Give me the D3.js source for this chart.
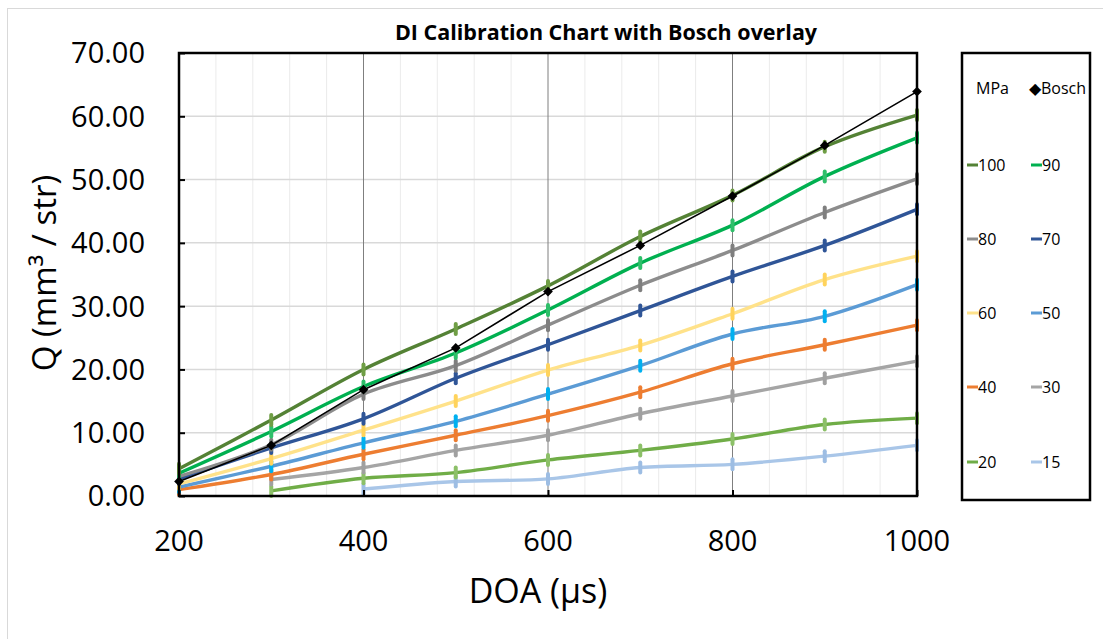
<!DOCTYPE html>
<html>
<head>
<meta charset="utf-8">
<script src="https://cdn.jsdelivr.net/npm/d3@7"></script>
<style>
  body { margin: 0; background: #fff; }
  svg { display: block; font-family: "Open Sans", sans-serif; }
</style>
</head>
<body>
<svg id="chart" width="1103" height="639"></svg>
<script>
// DOA (µs) on x, Q (mm³/str) on y
const doa = [200, 300, 400, 500, 600, 700, 800, 900, 1000];

const q100 = [4.3, 12.0, 20.0, 26.4, 33.2, 41.0, 47.5, 55.2, 60.2];
const q90 = [3.6, 10.2, 17.3, 22.6, 29.4, 36.8, 42.8, 50.5, 56.6];
const q80 = [3.1, 8.1, 16.1, 20.6, 27.0, 33.3, 38.8, 44.8, 50.1];
const q70 = [2.7, 7.6, 12.2, 18.6, 23.9, 29.3, 34.7, 39.6, 45.3];
const q60 = [1.9, 5.9, 10.4, 15.0, 19.9, 23.8, 28.8, 34.2, 37.9];
const q50 = [1.4, 4.7, 8.4, 11.8, 16.1, 20.6, 25.6, 28.4, 33.4];
const q40 = [1.0, 3.4, 6.6, 9.6, 12.7, 16.4, 20.9, 23.9, 27.0];
const q30 = [null, 2.6, 4.5, 7.2, 9.6, 13.0, 15.8, 18.6, 21.3];
const q20 = [null, 0.8, 2.8, 3.7, 5.7, 7.2, 9.0, 11.3, 12.3];
const q15 = [null, null, 1.1, 2.3, 2.7, 4.5, 5.0, 6.3, 8.0];
const bosch = [2.3, 8.0, 16.8, 23.4, 32.3, 39.6, 47.4, 55.4, 63.9];

const yTicks = [0, 10, 20, 30, 40, 50, 60, 70];
const xTicks = [200, 400, 600, 800, 1000];

const series = [
  { name: "100", values: q100, color: "#548235", mark: "#6f9e45" },
  { name: "90", values: q90, color: "#00b050", mark: "#2fbf6a" },
  { name: "80", values: q80, color: "#8c8c8c", mark: "#7f7f7f" },
  { name: "70", values: q70, color: "#2f5597", mark: "#2f5597" },
  { name: "60", values: q60, color: "#ffe28a", mark: "#ffd35c" },
  { name: "50", values: q50, color: "#5b9bd5", mark: "#00b0f0" },
  { name: "40", values: q40, color: "#ed7d31", mark: "#ed7d31" },
  { name: "30", values: q30, color: "#a5a5a5", mark: "#a0a0a0" },
  { name: "20", values: q20, color: "#70ad47", mark: "#8cc068" },
  { name: "15", values: q15, color: "#a9c6e8", mark: "#9dbde3" }
];

const svg = d3.select("#chart");
const margin = { top: 53, right: 186, bottom: 143, left: 179 };
const width = +svg.attr("width");
const height = +svg.attr("height");

// outer frame
svg.append("rect")
  .attr("x", 7.5).attr("y", 8.5)
  .attr("width", 1120).attr("height", 660)
  .attr("fill", "none").attr("stroke", "#d9d9d9");

const x = d3.scaleLinear()
  .domain([200, 1000])
  .range([margin.left, width - margin.right]);

const y = d3.scaleLinear()
  .domain([0, 70])
  .range([height - margin.bottom, margin.top]);

// minor vertical grid every 40
const minor = d3.range(240, 1000, 40).filter((d) => d % 200 !== 0);
svg.append("g")
  .selectAll("line")
  .data(minor)
  .join("line")
  .attr("x1", (d) => x(d)).attr("x2", (d) => x(d))
  .attr("y1", y(70)).attr("y2", y(0))
  .attr("stroke", "#ebebeb").attr("stroke-width", 1);

// horizontal grid
svg.append("g")
  .selectAll("line")
  .data(yTicks.slice(1, -1))
  .join("line")
  .attr("x1", x(200)).attr("x2", x(1000))
  .attr("y1", (d) => y(d)).attr("y2", (d) => y(d))
  .attr("stroke", "#d9d9d9").attr("stroke-width", 1.5);

// major vertical grid
svg.append("g")
  .selectAll("line")
  .data([400, 600, 800])
  .join("line")
  .attr("x1", (d) => x(d)).attr("x2", (d) => x(d))
  .attr("y1", y(70)).attr("y2", y(0))
  .attr("stroke", "#7f7f7f").attr("stroke-width", 1);

const line = d3.line()
  .defined((d) => d[1] != null)
  .x((d) => x(d[0]))
  .y((d) => y(d[1]))
  .curve(d3.curveCatmullRom.alpha(0.5));

const pts = (vals) => doa.map((d, i) => [d, vals[i]]);

// series lines drawn bottom-up so the top ones sit over
const lines = svg.append("g");
series.slice().reverse().forEach((s) => {
  const data = pts(s.values);
  lines.append("path")
    .datum(data)
    .attr("fill", "none")
    .attr("stroke", s.color)
    .attr("stroke-width", 3.4)
    .attr("d", line);
  lines.append("g")
    .selectAll("rect")
    .data(data.filter((d) => d[1] != null))
    .join("rect")
    .attr("x", (d) => x(d[0]) - 2)
    .attr("y", (d) => y(d[1]) - 7)
    .attr("width", 4)
    .attr("height", 14)
    .attr("rx", 2)
    .attr("fill", s.mark);
});

// Bosch overlay
const boschData = pts(bosch);
svg.append("path")
  .datum(boschData)
  .attr("fill", "none")
  .attr("stroke", "#000")
  .attr("stroke-width", 1.6)
  .attr("d", d3.line().x((d) => x(d[0])).y((d) => y(d[1])));

svg.append("g")
  .selectAll("path")
  .data(boschData)
  .join("path")
  .attr("transform", (d) => `translate(${x(d[0])},${y(d[1])})`)
  .attr("d", d3.symbol(d3.symbolDiamond2, 60))
  .attr("fill", "#000");

// axes
const yAxis = svg.append("g")
  .attr("transform", `translate(${margin.left},0)`)
  .call(d3.axisRight(y).tickValues(yTicks).tickSize(6).tickFormat(""));
yAxis.select(".domain").remove();
yAxis.selectAll("line").attr("stroke", "#000").attr("stroke-width", 2);

const xAxis = svg.append("g")
  .attr("transform", `translate(0,${y(0)})`)
  .call(d3.axisTop(x).tickValues(xTicks).tickSize(6).tickFormat(""));
xAxis.select(".domain").remove();
xAxis.selectAll("line").attr("stroke", "#000").attr("stroke-width", 2);

// frame of plot area
svg.append("rect")
  .attr("x", x(200)).attr("y", y(70))
  .attr("width", x(1000) - x(200)).attr("height", y(0) - y(70))
  .attr("fill", "none").attr("stroke", "#000").attr("stroke-width", 2.5);

// tick labels
svg.append("g")
  .selectAll("text")
  .data(yTicks)
  .join("text")
  .attr("x", 145)
  .attr("y", (d) => y(d))
  .attr("dy", "0.36em")
  .attr("text-anchor", "end")
  .attr("font-size", 29)
  .attr("fill", "#000")
  .text((d) => d.toFixed(2));

svg.append("g")
  .selectAll("text")
  .data(xTicks)
  .join("text")
  .attr("x", (d) => x(d))
  .attr("y", 551)
  .attr("text-anchor", "middle")
  .attr("font-size", 29)
  .attr("fill", "#000")
  .text((d) => d);

// axis titles
svg.append("text")
  .attr("x", 538).attr("y", 603)
  .attr("text-anchor", "middle")
  .attr("font-size", 34)
  .text("DOA (µs)");

svg.append("text")
  .attr("transform", "translate(56,273) rotate(-90)")
  .attr("text-anchor", "middle")
  .attr("font-size", 33)
  .text("Q (mm³ / str)");

// title
svg.append("text")
  .attr("x", 606).attr("y", 40)
  .attr("text-anchor", "middle")
  .attr("font-size", 21.5)
  .attr("font-weight", "bold")
  .text("DI Calibration Chart with Bosch overlay");

// legend
const lg = svg.append("g");
lg.append("rect")
  .attr("x", 962).attr("y", 53)
  .attr("width", 128).attr("height", 447)
  .attr("fill", "#fff").attr("stroke", "#000").attr("stroke-width", 2.5);

lg.append("text")
  .attr("x", 976).attr("y", 94)
  .attr("font-size", 16)
  .text("MPa");
lg.append("text")
  .attr("x", 1029).attr("y", 94)
  .attr("font-size", 16)
  .text("◆Bosch");

const rowsY = [165, 239, 313, 387, 462];
const left = series.filter((_, i) => i % 2 === 0);
const right = series.filter((_, i) => i % 2 === 1);
[[left, 967], [right, 1031]].forEach(([col, lx]) => {
  col.forEach((s, i) => {
    lg.append("line")
      .attr("x1", lx).attr("x2", lx + 11)
      .attr("y1", rowsY[i]).attr("y2", rowsY[i])
      .attr("stroke", s.color).attr("stroke-width", 3);
    lg.append("text")
      .attr("x", lx + 11).attr("y", rowsY[i])
      .attr("dy", "0.36em")
      .attr("font-size", 16)
      .text(s.name);
  });
});
</script>
</body>
</html>
